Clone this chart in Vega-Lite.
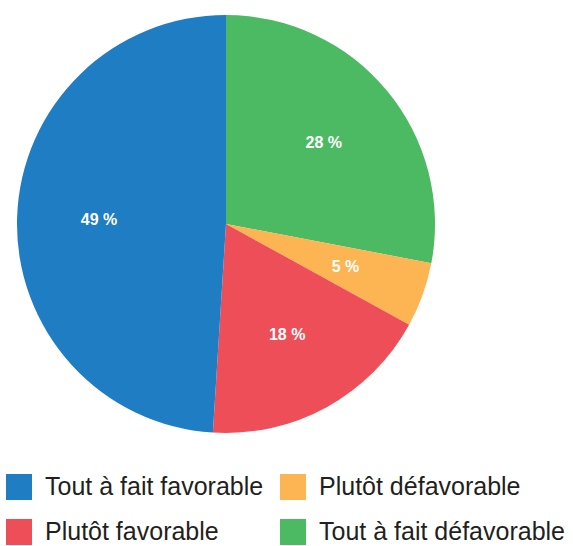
{
  "$schema": "https://vega.github.io/schema/vega-lite/v6.json",
  "width": 452,
  "height": 448,
  "autosize": "none",
  "padding": {"left": 0, "top": 0, "right": 121, "bottom": 98},
  "background": "white",
  "data": {
    "values": [
      {"cat": "Tout à fait défavorable", "v": 28, "o": 1, "lab": "28 %"},
      {"cat": "Plutôt défavorable", "v": 5, "o": 2, "lab": "5 %"},
      {"cat": "Plutôt favorable", "v": 18, "o": 3, "lab": "18 %"},
      {"cat": "Tout à fait favorable", "v": 49, "o": 4, "lab": "49 %"}
    ]
  },
  "encoding": {
    "theta": {"field": "v", "type": "quantitative", "stack": true},
    "order": {"field": "o", "type": "quantitative"}
  },
  "layer": [
    {
      "mark": {"type": "arc", "outerRadius": 209},
      "encoding": {
        "color": {
          "field": "cat",
          "type": "nominal",
          "scale": {
            "domain": ["Tout à fait favorable", "Plutôt favorable", "Plutôt défavorable", "Tout à fait défavorable"],
            "range": ["#1f7dc4", "#ee4e57", "#fcb552", "#4cb963"]
          },
          "legend": {
            "orient": "none",
            "legendX": 6,
            "legendY": 474,
            "columns": 2,
            "title": null,
            "symbolType": "square",
            "symbolSize": 676,
            "symbolStrokeWidth": 0,
            "labelFont": "Liberation Sans",
            "labelFontSize": 25,
            "labelColor": "#231f20",
            "labelOffset": 13,
            "labelLimit": 400,
            "rowPadding": 19,
            "columnPadding": 16,
            "padding": 0
          }
        }
      }
    },
    {
      "mark": {"type": "text", "radius": 127, "color": "white", "font": "Liberation Sans", "fontWeight": "bold", "fontSize": 16},
      "encoding": {"text": {"field": "lab", "type": "nominal"}}
    }
  ],
  "config": {"view": {"stroke": null}}
}
